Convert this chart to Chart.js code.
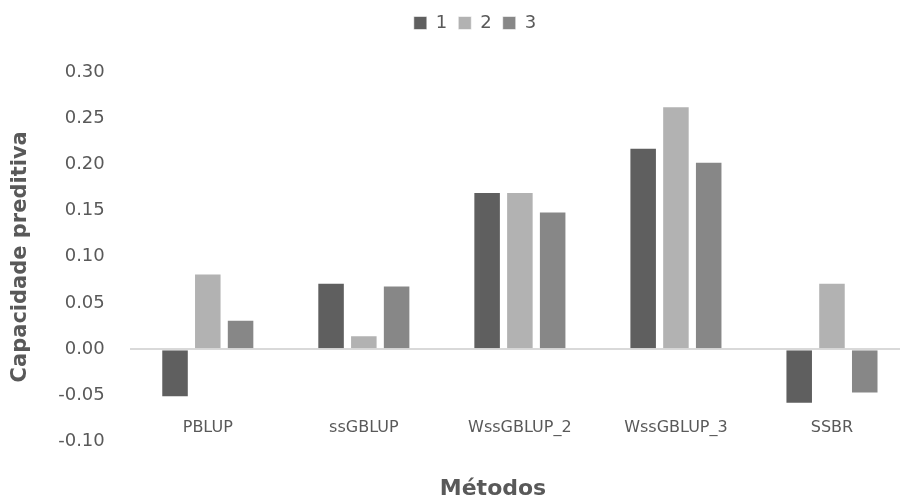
<!DOCTYPE html>
<html>
<head>
<meta charset="utf-8">
<script src="https://cdn.jsdelivr.net/npm/chart.js@4"></script>
<style>
  html, body { margin: 0; padding: 0; background: #ffffff; overflow: hidden; }
  #frame { width: 900px; height: 502px; overflow: hidden; position: relative; }
  #wrap { width: 910px; height: 502px; position: relative; }
</style>
</head>
<body>
<div id="frame"><div id="wrap"><canvas id="chart"></canvas></div></div>
<script>
// Métodos de avaliação genômica e capacidade preditiva por cenário
const categories = ['PBLUP', 'ssGBLUP', 'WssGBLUP_2', 'WssGBLUP_3', 'SSBR'];
const seriesNames = ['1', '2', '3'];
const serie1 = [-0.052, 0.072, 0.170, 0.218, -0.059];
const serie2 = [0.082, 0.015, 0.170, 0.263, 0.072];
const serie3 = [0.032, 0.069, 0.149, 0.203, -0.048];
const yTicks = [-0.10, -0.05, 0.00, 0.05, 0.10, 0.15, 0.20, 0.25, 0.30];

const colors = ['#5f5f5f', '#b2b2b2', '#878787'];
const textColor = '#595959';
const font = '"DejaVu Sans", sans-serif';

const values = [serie1, serie2, serie3];

// moves the legend block up/right and centres the bottom title over the plot
const blockOffsets = {
  id: 'blockOffsets',
  afterLayout(chart) {
    const lg = chart.legend;
    if (lg) { lg.left += 16; lg.right += 16; lg.top -= 30; lg.bottom -= 30; }
    const tb = chart.titleBlock;
    if (tb) { tb.left += 34; tb.right += 34; }
  }
};

new Chart(document.getElementById('chart'), {
  type: 'bar',
  data: {
    labels: categories,
    datasets: seriesNames.map((name, i) => ({
      label: name,
      data: values[i],
      backgroundColor: colors[i],
      borderColor: 'rgba(255,255,255,0.55)',
      borderWidth: 1,
      categoryPercentage: 0.63,
      barPercentage: 0.84
    }))
  },
  plugins: [blockOffsets],
  options: {
    responsive: true,
    maintainAspectRatio: false,
    animation: false,
    layout: { padding: { left: 8, right: 0, top: 33, bottom: 0 } },
    plugins: {
      legend: {
        position: 'top',
        labels: {
          color: textColor,
          font: { family: font, size: 18 },
          boxWidth: 13,
          boxHeight: 13,
          padding: 11
        }
      },
      title: {
        display: true,
        position: 'bottom',
        text: 'Métodos',
        color: textColor,
        font: { family: font, size: 22, weight: 'bold' },
        padding: { top: 34, bottom: 0 }
      },
      tooltip: { enabled: false }
    },
    scales: {
      y: {
        min: -0.10,
        max: 0.30,
        afterBuildTicks: scale => { scale.ticks = yTicks.map(v => ({ value: v })); },
        ticks: {
          color: textColor,
          font: { family: font, size: 18 },
          padding: 25,
          callback: v => Number(v).toFixed(2)
        },
        grid: {
          drawTicks: false,
          lineWidth: 2,
          color: ctx => (ctx.tick && Math.abs(ctx.tick.value) < 1e-9) ? '#d9d9d9' : 'rgba(0,0,0,0)'
        },
        border: { display: false },
        title: {
          display: true,
          text: 'Capacidade preditiva',
          color: textColor,
          font: { family: font, size: 21, weight: 'bold' },
          padding: { top: 0, bottom: 0 }
        }
      },
      x: {
        position: { y: -0.070 },
        grid: { display: false, drawTicks: false },
        border: { display: false },
        ticks: {
          color: textColor,
          font: { family: font, size: 16 },
          padding: 4
        }
      }
    }
  }
});
</script>
</body>
</html>
